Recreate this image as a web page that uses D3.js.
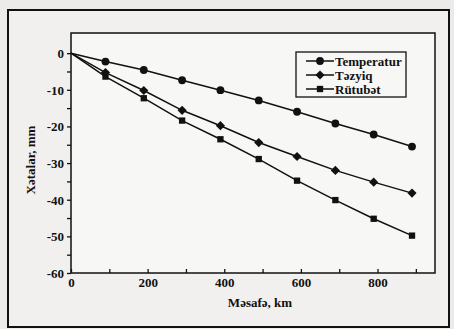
<!DOCTYPE html>
<html>
<head>
<meta charset="utf-8">
<script src="https://cdn.jsdelivr.net/npm/d3@7"></script>
<style>
  body { margin: 0; background: #ecebea; }
  svg { display: block; }
  text { font-family: "Liberation Serif", "Times New Roman", serif; font-weight: bold; fill: #111; }
</style>
</head>
<body>
<svg id="chart" width="454" height="329"></svg>
<script>
// distances, km
const distances = [0, 90, 190, 290, 390, 490, 590, 690, 790, 890];
// errors, mm
const temperatur = [0, -2.3, -4.6, -7.4, -10.1, -12.9, -16.0, -19.2, -22.2, -25.5];
const tezyiq = [0, -5.3, -10.2, -15.6, -19.8, -24.4, -28.2, -32.0, -35.2, -38.2];
const rutubet = [0, -6.4, -12.3, -18.4, -23.5, -28.9, -34.8, -40.1, -45.2, -49.8];
const seriesNames = ['Temperatur', 'Təzyiq', 'Rütubət'];
const xTicks = [0, 200, 400, 600, 800];
const yTicks = [0, -10, -20, -30, -40, -50, -60];

const svg = d3.select('#chart');

// scanned page frame
svg.append('rect')
  .attr('x', 8).attr('y', 10).attr('width', 441).attr('height', 317)
  .attr('fill', '#f1f0ef').attr('stroke', '#111').attr('stroke-width', 2);

const plot = { left: 71, right: 435, top: 33, bottom: 273 };

const x = d3.scaleLinear().domain([0, 950]).range([plot.left, plot.right]);
const y = d3.scaleLinear().domain([-60, 5.5]).range([plot.bottom, plot.top]);

svg.append('rect')
  .attr('x', plot.left).attr('y', plot.top)
  .attr('width', plot.right - plot.left).attr('height', plot.bottom - plot.top)
  .attr('fill', '#f7f7f6').attr('stroke', '#111').attr('stroke-width', 1.5);

// y axis, ticks outward
const yAxis = d3.axisLeft(y).tickValues(d3.range(-60, 1, 5)).tickSize(4)
  .tickFormat(d => yTicks.includes(d) ? d : '');
const gy = svg.append('g').attr('transform', `translate(${plot.left},0)`).call(yAxis);
gy.select('.domain').remove();
gy.selectAll('line').attr('stroke', '#111').attr('stroke-width', 1.3);
gy.selectAll('text').attr('font-size', 13).attr('x', -7).attr('dy', '0.35em')
  .style('font-family', '"Liberation Serif", serif').style('font-weight', 'bold');

// x axis, ticks inward
const xAxis = d3.axisBottom(x).tickValues(d3.range(0, 901, 100)).tickSize(-4)
  .tickFormat(d => xTicks.includes(d) ? d : '');
const gx = svg.append('g').attr('transform', `translate(0,${plot.bottom})`).call(xAxis);
gx.select('.domain').remove();
gx.selectAll('line').attr('stroke', '#111').attr('stroke-width', 1.3);
gx.selectAll('text').attr('font-size', 13).attr('y', 5)
  .style('font-family', '"Liberation Serif", serif').style('font-weight', 'bold');

svg.append('text')
  .attr('x', 260).attr('y', 307).attr('text-anchor', 'middle').attr('font-size', 13)
  .text('Məsafə, km');
svg.append('text')
  .attr('transform', 'translate(35,160) rotate(-90)').attr('text-anchor', 'middle').attr('font-size', 13)
  .text('Xətalar, mm');

// circle, diamond (square turned 45deg), square
const symbols = [d3.symbolCircle, d3.symbolSquare, d3.symbolSquare];
const sizes = [48, 42, 40];
const turns = [0, 45, 0];
const allSeries = [temperatur, tezyiq, rutubet];

const line = d3.line().x((d, i) => x(distances[i])).y(d => y(d));

allSeries.forEach((vals, s) => {
  svg.append('path').datum(vals)
    .attr('d', line).attr('fill', 'none').attr('stroke', '#111').attr('stroke-width', 1.5);
  svg.selectAll('.m' + s)
    .data(vals.map((v, i) => [distances[i], v]).filter(d => d[0] > 0))
    .enter().append('path')
    .attr('class', 'm' + s)
    .attr('d', d3.symbol().type(symbols[s]).size(sizes[s]))
    .attr('transform', d => `translate(${x(d[0])},${y(d[1])}) rotate(${turns[s]})`)
    .attr('fill', '#111');
});

// legend
const lg = svg.append('g').attr('transform', 'translate(296,52)');
lg.append('rect').attr('width', 110).attr('height', 45)
  .attr('fill', '#f7f7f6').attr('stroke', '#111').attr('stroke-width', 1.3);
seriesNames.forEach((name, s) => {
  const yy = 9 + s * 14;
  lg.append('line').attr('x1', 10).attr('x2', 38).attr('y1', yy).attr('y2', yy)
    .attr('stroke', '#111').attr('stroke-width', 1.5);
  lg.append('path').attr('d', d3.symbol().type(symbols[s]).size(sizes[s]))
    .attr('transform', `translate(24,${yy}) rotate(${turns[s]})`).attr('fill', '#111');
  lg.append('text').attr('x', 39).attr('y', yy).attr('dy', '0.35em').attr('font-size', 13)
    .text(name);
});
</script>
</body>
</html>
